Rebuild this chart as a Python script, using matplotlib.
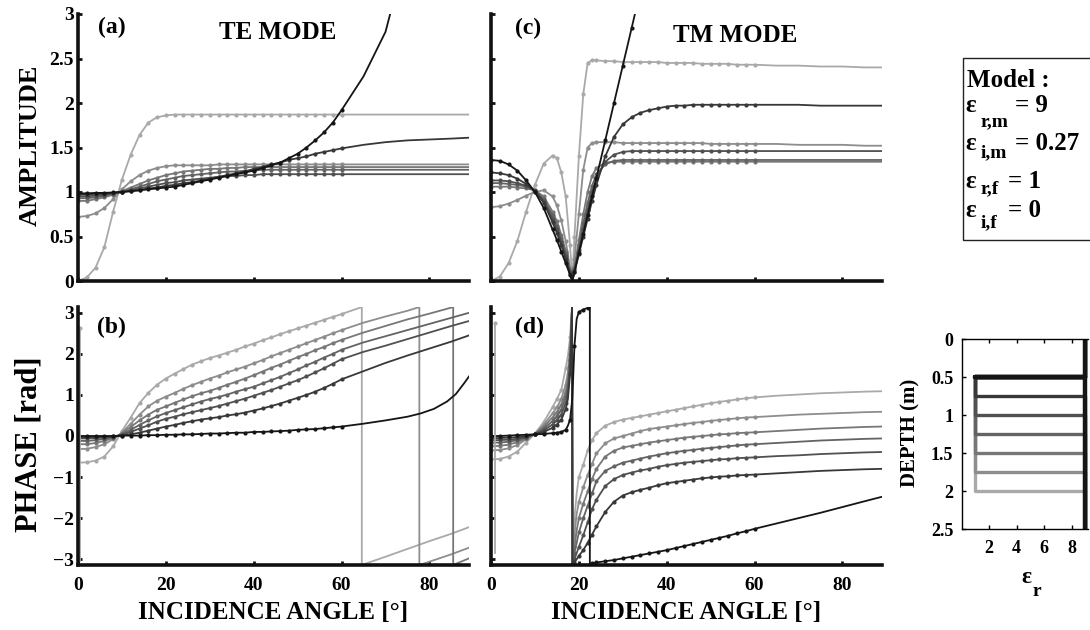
import numpy as np
import matplotlib.pyplot as plt
from matplotlib.patches import Rectangle

plt.rcParams['font.family'] = ['Liberation Serif', 'DejaVu Serif']
plt.rcParams['font.weight'] = 'bold'

# film bottom depth (m) of each model, darkest curve first
depths = [0.5, 0.75, 1.0, 1.25, 1.5, 1.75, 2.0]
grays = ['#151515', '#383838', '#505050', '#636363', '#777777', '#8d8d8d', '#a9a9a9']
eps_matrix = 9
eps_film = 1
film_top = 0.5
depth_max = 2.5

# model box lines: subscript and value
model_subs = ['r,m', 'i,m', 'r,f', 'i,f']
model_vals = ['= 9', '= 0.27', '= 1', '= 0']

# (a) TE amplitude
ang_te_amp = [0, 2, 4, 6, 8, 10, 12, 14, 16, 18, 20, 22, 24, 26, 28, 30, 32, 34, 36, 38, 40,
              42, 44, 46, 48, 50, 52, 54, 56, 58, 60, 65, 70, 75, 80, 85, 89]
te_amp = [
    [0.985, 0.985, 0.99, 0.99, 0.995, 1.0, 1.01, 1.02, 1.03, 1.04, 1.05, 1.06, 1.08, 1.10, 1.12, 1.14, 1.16, 1.18, 1.20, 1.22, 1.24,
     1.27, 1.30, 1.33, 1.38, 1.43, 1.50, 1.58, 1.67, 1.78, 1.92, 2.30, 2.80, 3.75],
    [0.97, 0.97, 0.98, 0.98, 0.99, 1.0, 1.01, 1.02, 1.04, 1.05, 1.07, 1.08, 1.10, 1.11, 1.13, 1.15, 1.17, 1.19, 1.21, 1.23, 1.26,
     1.28, 1.31, 1.33, 1.36, 1.38, 1.40, 1.43, 1.45, 1.47, 1.49, 1.53, 1.56, 1.58, 1.59, 1.60, 1.61],
    [0.95, 0.95, 0.96, 0.97, 0.99, 1.0, 1.02, 1.04, 1.06, 1.08, 1.10, 1.11, 1.13, 1.14, 1.15, 1.16, 1.17, 1.18, 1.18, 1.19, 1.19,
     1.20, 1.20, 1.20, 1.20, 1.20, 1.20, 1.20, 1.20, 1.20, 1.20, 1.20, 1.20, 1.20, 1.20, 1.20, 1.20],
    [0.93, 0.93, 0.94, 0.96, 0.98, 1.0, 1.03, 1.06, 1.09, 1.12, 1.14, 1.16, 1.18, 1.19, 1.20, 1.21, 1.22, 1.23, 1.23, 1.24, 1.24,
     1.25, 1.25, 1.25, 1.25, 1.25, 1.25, 1.25, 1.25, 1.25, 1.25, 1.25, 1.25, 1.25, 1.25, 1.25, 1.25],
    [0.90, 0.90, 0.92, 0.94, 0.97, 1.01, 1.05, 1.09, 1.13, 1.16, 1.19, 1.21, 1.23, 1.24, 1.25, 1.26, 1.26, 1.27, 1.27, 1.28, 1.28,
     1.28, 1.28, 1.28, 1.28, 1.28, 1.28, 1.28, 1.28, 1.28, 1.28, 1.28, 1.28, 1.28, 1.28, 1.28, 1.28],
    [0.72, 0.73, 0.76, 0.82, 0.92, 1.03, 1.12, 1.19, 1.24, 1.27, 1.29, 1.30, 1.30, 1.30, 1.30, 1.30, 1.31, 1.31, 1.31, 1.31, 1.31,
     1.31, 1.31, 1.31, 1.31, 1.31, 1.31, 1.31, 1.31, 1.31, 1.31, 1.31, 1.31, 1.31, 1.31, 1.31, 1.31],
    [0.0, 0.04, 0.15, 0.38, 0.78, 1.14, 1.42, 1.64, 1.78, 1.84, 1.86, 1.87, 1.87, 1.87, 1.87, 1.87, 1.87, 1.87, 1.87, 1.87, 1.87,
     1.87, 1.87, 1.87, 1.87, 1.87, 1.87, 1.87, 1.87, 1.87, 1.87, 1.87, 1.87, 1.87, 1.87, 1.87, 1.87],
]

# (c) TM amplitude
ang_tm_amp = [0, 2, 4, 6, 8, 10, 12, 14, 15, 16, 17, 18, 18.5, 19, 20, 21, 22, 23, 24,
              26, 28, 30, 32, 34, 36, 38, 40, 42, 44, 46, 48, 50, 52, 54, 56, 58, 60, 65, 70, 75, 80, 85, 89]
tm_amp = [
    [1.36, 1.35, 1.31, 1.24, 1.13, 1.0, 0.82, 0.58, 0.46, 0.33, 0.20, 0.07, 0.0, 0.10, 0.32, 0.53, 0.74, 0.95, 1.16,
     1.58, 2.0, 2.42, 2.84, 3.26],
    [1.22, 1.21, 1.19, 1.15, 1.09, 1.01, 0.88, 0.66, 0.54, 0.40, 0.25, 0.08, 0.0, 0.10, 0.30, 0.50, 0.70, 0.90, 1.08,
     1.40, 1.62, 1.76, 1.84, 1.89, 1.92, 1.94, 1.96, 1.97, 1.97, 1.98, 1.98, 1.98, 1.98, 1.98, 1.98, 1.98, 1.98,
     1.98, 1.98, 1.97, 1.97, 1.97, 1.97],
    [1.13, 1.13, 1.12, 1.10, 1.07, 1.01, 0.90, 0.70, 0.58, 0.44, 0.28, 0.10, 0.0, 0.12, 0.35, 0.58, 0.80, 1.0, 1.15,
     1.34, 1.42, 1.45, 1.46, 1.46, 1.46, 1.46, 1.46, 1.46, 1.46, 1.46, 1.46, 1.46, 1.46, 1.46, 1.46, 1.46, 1.46,
     1.46, 1.46, 1.46, 1.46, 1.46, 1.46],
    [1.10, 1.10, 1.09, 1.08, 1.06, 1.02, 0.92, 0.74, 0.62, 0.48, 0.31, 0.11, 0.0, 0.14, 0.40, 0.65, 0.88, 1.07, 1.20,
     1.31, 1.35, 1.36, 1.36, 1.36, 1.36, 1.36, 1.36, 1.36, 1.36, 1.36, 1.36, 1.36, 1.36, 1.36, 1.36, 1.36, 1.36,
     1.36, 1.36, 1.36, 1.36, 1.36, 1.36],
    [1.06, 1.06, 1.06, 1.05, 1.04, 1.02, 0.95, 0.78, 0.67, 0.52, 0.34, 0.12, 0.0, 0.16, 0.46, 0.75, 1.0, 1.18, 1.27,
     1.33, 1.34, 1.34, 1.34, 1.34, 1.34, 1.34, 1.34, 1.34, 1.34, 1.34, 1.34, 1.34, 1.34, 1.34, 1.34, 1.34, 1.34,
     1.34, 1.34, 1.34, 1.34, 1.34, 1.34],
    [0.83, 0.84, 0.87, 0.91, 0.96, 1.0, 1.02, 0.95, 0.85, 0.68, 0.45, 0.15, 0.0, 0.25, 0.75, 1.25, 1.50, 1.55, 1.56,
     1.56, 1.56, 1.55, 1.55, 1.55, 1.55, 1.55, 1.55, 1.55, 1.55, 1.55, 1.55, 1.54, 1.54, 1.54, 1.54, 1.54, 1.54,
     1.54, 1.53, 1.53, 1.53, 1.52, 1.52],
    [0.0, 0.05, 0.2, 0.45, 0.78, 1.08, 1.32, 1.41, 1.38, 1.22, 0.95, 0.4, 0.0, 0.5, 1.4, 2.1, 2.45, 2.48, 2.48,
     2.47, 2.47, 2.46, 2.46, 2.46, 2.46, 2.46, 2.45, 2.45, 2.45, 2.45, 2.44, 2.44, 2.44, 2.44, 2.43, 2.43, 2.43,
     2.42, 2.42, 2.41, 2.41, 2.40, 2.40],
]

# (b) TE phase, 0-60 deg on a shared grid, then each curve's own tail (with the 2*pi wraps)
ang_te_ph = [0, 2, 4, 6, 8, 10, 12, 14, 16, 18, 20, 22, 24, 26, 28, 30, 32, 34, 36, 38, 40,
             42, 44, 46, 48, 50, 52, 54, 56, 58, 60]
te_ph = [
    [0, 0, 0, 0, 0, 0.01, 0.01, 0.01, 0.02, 0.02, 0.03, 0.03, 0.04, 0.04, 0.05, 0.06, 0.06, 0.07, 0.08, 0.08, 0.10,
     0.10, 0.11, 0.12, 0.13, 0.15, 0.16, 0.17, 0.19, 0.21, 0.23],
    [-0.03, -0.03, -0.02, -0.02, -0.01, 0.01, 0.04, 0.08, 0.13, 0.18, 0.23, 0.27, 0.32, 0.36, 0.40, 0.43, 0.46, 0.50, 0.53, 0.57, 0.62,
     0.67, 0.73, 0.79, 0.86, 0.93, 1.00, 1.08, 1.17, 1.27, 1.38],
    [-0.06, -0.06, -0.05, -0.04, -0.02, 0.02, 0.10, 0.18, 0.26, 0.35, 0.42, 0.47, 0.53, 0.58, 0.63, 0.68, 0.73, 0.79, 0.85, 0.91, 0.98,
     1.05, 1.12, 1.20, 1.28, 1.36, 1.45, 1.55, 1.65, 1.76, 1.87],
    [-0.12, -0.12, -0.10, -0.07, -0.03, 0.04, 0.15, 0.27, 0.38, 0.48, 0.56, 0.63, 0.70, 0.77, 0.84, 0.90, 0.95, 1.01, 1.08, 1.14, 1.20,
     1.28, 1.36, 1.44, 1.53, 1.62, 1.72, 1.81, 1.91, 2.00, 2.10],
    [-0.20, -0.20, -0.17, -0.12, -0.05, 0.06, 0.22, 0.38, 0.52, 0.64, 0.72, 0.81, 0.89, 0.97, 1.04, 1.10, 1.17, 1.25, 1.32, 1.40, 1.48,
     1.57, 1.66, 1.74, 1.83, 1.92, 2.00, 2.09, 2.17, 2.26, 2.34],
    [-0.32, -0.31, -0.27, -0.20, -0.08, 0.08, 0.30, 0.52, 0.72, 0.86, 0.96, 1.05, 1.15, 1.24, 1.32, 1.40, 1.47, 1.55, 1.62, 1.69, 1.77,
     1.85, 1.94, 2.02, 2.10, 2.18, 2.26, 2.34, 2.42, 2.50, 2.58],
    [-0.65, -0.64, -0.60, -0.50, -0.25, 0.12, 0.45, 0.80, 1.05, 1.25, 1.40, 1.52, 1.63, 1.74, 1.82, 1.90, 1.96, 2.03, 2.10, 2.18, 2.25,
     2.33, 2.40, 2.48, 2.55, 2.62, 2.69, 2.76, 2.83, 2.90, 2.97],
]
te_ph_tail_x = [
    [65, 70, 75, 78, 81, 84, 86, 88, 89],
    [65, 70, 75, 80, 85, 89],
    [65, 70, 75, 80, 85, 89],
    [65, 70, 75, 80, 85, 89],
    [65, 70, 75, 80, 85.4, 85.4, 89],
    [65, 70, 75, 77.7, 77.7, 80, 85, 89],
    [64.6, 64.6, 70, 75, 80, 85, 89],
]
te_ph_tail_y = [
    [0.30, 0.38, 0.47, 0.55, 0.66, 0.84, 1.02, 1.30, 1.45],
    [1.58, 1.78, 1.96, 2.13, 2.30, 2.45],
    [2.05, 2.20, 2.36, 2.52, 2.68, 2.80],
    [2.28, 2.43, 2.58, 2.73, 2.88, 3.00],
    [2.52, 2.68, 2.84, 2.98, 3.14, -3.14, -2.98],
    [2.76, 2.91, 3.05, 3.14, -3.14, -3.06, -2.88, -2.72],
    [3.14, -3.14, -2.94, -2.75, -2.56, -2.38, -2.22],
]
te_spike_x = [0.4, 0.4]
te_spike_y = [2.62, -3.05]

# (d) TM phase; curves 1-6 share one grid (jump to -pi just past 18.5 deg)
ang_tm_ph = [0, 2, 4, 6, 8, 10, 12, 14, 15, 16, 17, 17.5, 18, 18.3, 18.45,
             18.55, 18.7, 19, 19.5, 20, 21, 22, 23, 24, 26, 28, 30, 32, 34, 36, 38, 40,
             42, 44, 46, 48, 50, 52, 54, 56, 58, 60, 65, 70, 75, 80, 85, 89]
tm_ph = [
    None,
    [-0.05, -0.05, -0.04, -0.03, -0.01, 0.04, 0.10, 0.20, 0.28, 0.40, 0.65, 0.90, 1.50, 2.40, 3.14,
     -3.14, -3.11, -3.08, -3.0, -2.92, -2.78, -2.6, -2.4, -2.2, -1.85, -1.60, -1.45, -1.37, -1.31, -1.26, -1.20, -1.15,
     -1.12, -1.09, -1.06, -1.03, -1.01, -0.99, -0.98, -0.96, -0.95, -0.94, -0.91, -0.88, -0.85, -0.83, -0.81, -0.80],
    [-0.10, -0.10, -0.09, -0.07, -0.03, 0.04, 0.14, 0.28, 0.38, 0.52, 0.80, 1.05, 1.70, 2.55, 3.14,
     -3.14, -3.07, -3.0, -2.85, -2.7, -2.42, -2.1, -1.78, -1.55, -1.22, -1.05, -0.95, -0.89, -0.84, -0.80, -0.75, -0.71,
     -0.68, -0.65, -0.63, -0.61, -0.59, -0.57, -0.56, -0.54, -0.53, -0.52, -0.49, -0.47, -0.44, -0.42, -0.40, -0.39],
    [-0.16, -0.16, -0.14, -0.10, -0.04, 0.05, 0.18, 0.36, 0.48, 0.64, 0.95, 1.20, 1.85, 2.65, 3.14,
     -3.14, -3.0, -2.85, -2.6, -2.35, -2.0, -1.7, -1.4, -1.1, -0.85, -0.74, -0.65, -0.60, -0.55, -0.50, -0.46, -0.42,
     -0.39, -0.36, -0.34, -0.31, -0.29, -0.27, -0.25, -0.23, -0.21, -0.20, -0.17, -0.14, -0.11, -0.09, -0.07, -0.06],
    [-0.25, -0.24, -0.21, -0.15, -0.06, 0.05, 0.22, 0.45, 0.58, 0.76, 1.08, 1.35, 2.0, 2.75, 3.14,
     -3.14, -2.95, -2.7, -2.3, -2.0, -1.65, -1.35, -1.05, -0.8, -0.50, -0.36, -0.28, -0.24, -0.20, -0.16, -0.13, -0.10,
     -0.07, -0.04, -0.02, 0.0, 0.02, 0.04, 0.05, 0.07, 0.08, 0.09, 0.12, 0.15, 0.18, 0.20, 0.22, 0.23],
    [-0.35, -0.34, -0.30, -0.22, -0.08, 0.06, 0.27, 0.55, 0.70, 0.90, 1.25, 1.55, 2.15, 2.85, 3.14,
     -3.14, -2.8, -2.4, -1.9, -1.6, -1.25, -0.95, -0.68, -0.42, -0.18, -0.06, 0.0, 0.06, 0.12, 0.17, 0.20, 0.23,
     0.26, 0.29, 0.32, 0.34, 0.37, 0.39, 0.41, 0.43, 0.45, 0.46, 0.49, 0.52, 0.54, 0.56, 0.58, 0.59],
    [-0.57, -0.56, -0.50, -0.38, -0.16, 0.06, 0.34, 0.70, 0.90, 1.12, 1.65, 1.95, 2.40, 2.95, 3.14,
     -3.14, -2.6, -2.0, -1.4, -1.0, -0.7, -0.35, -0.1, 0.07, 0.25, 0.34, 0.40, 0.44, 0.48, 0.52, 0.56, 0.60,
     0.64, 0.68, 0.72, 0.76, 0.80, 0.83, 0.86, 0.89, 0.92, 0.94, 0.98, 1.01, 1.04, 1.06, 1.08, 1.09],
]
ang_tm_ph_black = [0, 2, 4, 6, 8, 10, 12, 14, 15, 16, 17, 17.5, 18, 18.5, 19, 19.5, 20, 21, 22, 22.5,
                   22.5, 23, 24, 26, 28, 30, 32, 34, 36, 38, 40, 42, 44, 46, 48, 50, 52, 54, 56, 58, 60,
                   65, 70, 75, 80, 85, 89]
tm_ph_black = [0.0, 0.0, 0.01, 0.02, 0.03, 0.04, 0.05, 0.07, 0.08, 0.10, 0.15, 0.25, 0.4, 0.9, 2.2, 2.85, 3.02, 3.08, 3.12, 3.14,
               -3.12, -3.10, -3.08, -3.05, -3.02, -2.98, -2.94, -2.90, -2.86, -2.82, -2.78, -2.73, -2.68, -2.63, -2.58, -2.53,
               -2.48, -2.43, -2.37, -2.32, -2.26, -2.13, -2.0, -1.87, -1.73, -1.59, -1.48]
tm_spike_x = [0.8, 0.8]
tm_spike_y = [2.75, -2.85]


def draw(ax, x, y, color):
    x = np.asarray(x, float)[:len(y)]
    y = np.asarray(y, float)
    ax.plot(x, y, color=color, lw=1.3, solid_joinstyle='round')
    m = (x <= 60) & (x % 1 == 0)
    ax.plot(x[m], y[m], 'o', color=color, ms=3.0, mew=0)


def style(ax, ylim, yticks, ytl, xlabels, ylabels):
    ax.set_xlim(0, 89)
    ax.set_ylim(*ylim)
    ax.set_xticks([0, 20, 40, 60, 80])
    ax.set_yticks(yticks)
    ax.set_yticklabels(ytl)
    for s in ['top', 'right']:
        ax.spines[s].set_visible(False)
    for s in ['left', 'bottom']:
        ax.spines[s].set_linewidth(2.6)
        ax.spines[s].set_color('#111111')
    ax.tick_params(direction='in', length=3, width=2, labelsize=14, color='#111111')
    ax.tick_params(axis='x', pad=9)
    ax.tick_params(axis='y', pad=3)
    if not xlabels:
        ax.set_xticklabels([])
    if not ylabels:
        ax.set_yticklabels([])


fig = plt.figure(figsize=(10.9, 6.3), dpi=100)
W, H = 1090, 630
ax_a = fig.add_axes([78 / W, 1 - 281 / H, 391 / W, 267 / H])
ax_c = fig.add_axes([491 / W, 1 - 281 / H, 391 / W, 267 / H])
ax_b = fig.add_axes([78 / W, 1 - 565 / H, 391 / W, 258 / H])
ax_d = fig.add_axes([491 / W, 1 - 565 / H, 391 / W, 258 / H])
ax_p = fig.add_axes([961.5 / W, 1 - 529 / H, 126.5 / W, 190 / H])

amp_ticks = [0, 0.5, 1, 1.5, 2, 2.5, 3]
amp_labels = ['0', '0.5', '1', '1.5', '2', '2.5', '3']
ph_ticks = [-3, -2, -1, 0, 1, 2, 3]
ph_labels = ['\u22123', '\u22122', '\u22121', '0', '1', '2', '3']

for i in range(6, -1, -1):
    c = grays[i]
    draw(ax_a, ang_te_amp, te_amp[i], c)
    draw(ax_c, ang_tm_amp, tm_amp[i], c)
    draw(ax_b, ang_te_ph + te_ph_tail_x[i], te_ph[i] + te_ph_tail_y[i], c)
    if i == 0:
        draw(ax_d, ang_tm_ph_black, tm_ph_black, c)
    else:
        draw(ax_d, ang_tm_ph, tm_ph[i], c)

ax_b.plot(te_spike_x, te_spike_y, color=grays[6], lw=1.3)
ax_b.plot(te_spike_x[:1], te_spike_y[:1], 'o', color=grays[6], ms=3.0, mew=0)
ax_d.plot(tm_spike_x, tm_spike_y, color=grays[6], lw=1.3)
ax_d.plot(tm_spike_x[:1], tm_spike_y[:1], 'o', color=grays[6], ms=3.0, mew=0)

style(ax_a, (0, 3), amp_ticks, amp_labels, False, True)
style(ax_c, (0, 3), amp_ticks, amp_labels, False, False)
style(ax_b, (-np.pi, np.pi), ph_ticks, ph_labels, True, True)
style(ax_d, (-np.pi, np.pi), ph_ticks, ph_labels, True, False)

ax_a.text(0.051, 0.948, '(a)', transform=ax_a.transAxes, fontsize=17, va='center')
ax_a.text(0.51, 0.93, 'TE MODE', transform=ax_a.transAxes, fontsize=18, ha='center', va='center')
ax_c.text(0.061, 0.944, '(c)', transform=ax_c.transAxes, fontsize=17, va='center')
ax_c.text(0.624, 0.921, 'TM MODE', transform=ax_c.transAxes, fontsize=18, ha='center', va='center')
ax_b.text(0.048, 0.919, '(b)', transform=ax_b.transAxes, fontsize=17, va='center')
ax_d.text(0.061, 0.919, '(d)', transform=ax_d.transAxes, fontsize=17, va='center')

fig.text(30 / W, 1 - 145 / H, 'AMPLITUDE', rotation=90, fontsize=19, ha='center', va='center')
fig.text(29 / W, 1 - 444 / H, 'PHASE [rad]', rotation=90, fontsize=22, ha='center', va='center')
fig.text(273.5 / W, 1 - 613 / H, 'INCIDENCE ANGLE [°]', fontsize=18, ha='center', va='center')
fig.text(686.5 / W, 1 - 613 / H, 'INCIDENCE ANGLE [°]', fontsize=18, ha='center', va='center')

# model box
fig.add_artist(Rectangle((963 / W, 1 - 240 / H), 0.2, 182 / H, transform=fig.transFigure,
                         fill=False, lw=1.0, ec='#222222'))
fig.text(967 / W, 1 - 86.7 / H, 'Model :', fontsize=18, va='baseline')
base_px = [111.7, 150, 188, 216.7]
sub_px = [126, 157, 193, 227]
val_x = [1015, 1015, 1008, 1008]
for k in range(4):
    fig.text(965 / W, 1 - base_px[k] / H, 'ε', fontsize=18, va='baseline')
    fig.text(981 / W, 1 - sub_px[k] / H, model_subs[k], fontsize=14, va='baseline')
    fig.text(val_x[k] / W, 1 - base_px[k] / H, model_vals[k], fontsize=18, va='baseline')

# depth profiles
for i in range(6, -1, -1):
    d = depths[i]
    px = [eps_matrix, eps_matrix, eps_film, eps_film, eps_matrix, eps_matrix]
    py = [0, film_top, film_top, d, d, depth_max]
    ax_p.plot(px, py, color=grays[i], lw=3.2 if i == 0 else 2.4, solid_capstyle='butt')
ax_p.set_xlim(0, 9.2)
ax_p.set_ylim(depth_max, 0)
ax_p.set_xticks([2, 4, 6, 8])
ax_p.set_yticks([0, 0.5, 1, 1.5, 2, 2.5])
ax_p.set_yticklabels(['0', '0.5', '1', '1.5', '2', '2.5'])
ax_p.spines['right'].set_visible(False)
for s in ['top', 'left', 'bottom']:
    ax_p.spines[s].set_linewidth(1.0)
ax_p.tick_params(direction='in', length=3, width=1, labelsize=13, top=True)
ax_p.tick_params(axis='x', pad=8)
ax_p.tick_params(axis='y', pad=6)
fig.text(910 / W, 1 - 433 / H, 'DEPTH (m)', rotation=90, fontsize=15, ha='center', va='center')
fig.text(1021 / W, 1 - 583 / H, 'ε', fontsize=17, va='baseline')
fig.text(1033 / W, 1 - 596 / H, 'r', fontsize=14, va='baseline')

fig.savefig('out.png', dpi=100)
